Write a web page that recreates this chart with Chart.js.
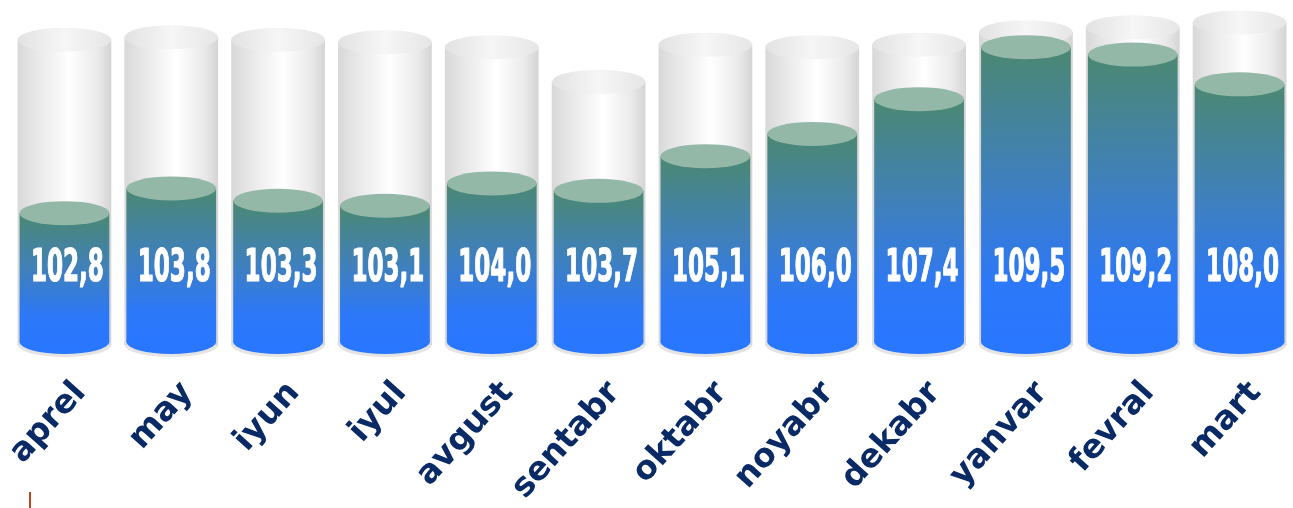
<!DOCTYPE html>
<html>
<head>
<meta charset="utf-8">
<script src="https://cdn.jsdelivr.net/npm/chart.js@4.4.1/dist/chart.umd.min.js"></script>
<style>
  html, body { margin: 0; padding: 0; background: #fff; overflow: hidden; }
</style>
</head>
<body>
<canvas id="grafico" width="1293" height="508"></canvas>
<script>
const meses = ['aprel', 'may', 'iyun', 'iyul', 'avgust', 'sentabr', 'oktabr', 'noyabr', 'dekabr', 'yanvar', 'fevral', 'mart'];
const valores = [102.8, 103.8, 103.3, 103.1, 104.0, 103.7, 105.1, 106.0, 107.4, 109.5, 109.2, 108.0];
// height of the empty glass cylinders
const nivelVidrio = [109.8, 109.9, 109.8, 109.7, 109.5, 108.1, 109.6, 109.5, 109.6, 110.1, 110.3, 110.5];
const ejeMin = 97.6;
const ejeMax = 111;

const formato = v => v.toFixed(1).replace('.', ',');

const cilindros = {
  id: 'cilindros',
  beforeDatasetsDraw(chart) {
    const ctx = chart.ctx;
    const vidrio = chart.getDatasetMeta(0).data;
    const relleno = chart.getDatasetMeta(1).data;
    const ry = 12;

    relleno.forEach((bar, i) => {
      const g = vidrio[i];
      const gw = g.width + 4;
      const gl = g.x - gw / 2;
      const grx = gw / 2;
      const base = bar.base;

      // vidrio: cuerpo
      const gradV = ctx.createLinearGradient(gl, 0, gl + gw, 0);
      gradV.addColorStop(0, '#d8d8d8');
      gradV.addColorStop(0.15, '#e4e4e4');
      gradV.addColorStop(0.55, '#ffffff');
      gradV.addColorStop(0.85, '#eaeaea');
      gradV.addColorStop(1, '#d4d4d4');

      ctx.save();
      ctx.fillStyle = '#e4e4e4';
      ctx.beginPath();
      ctx.ellipse(g.x, base + 3, grx, ry, 0, 0, Math.PI * 2);
      ctx.fill();
      ctx.fillStyle = gradV;
      ctx.fillRect(gl, g.y, gw, base + 3 - g.y);

      // vidrio: tapa
      const gradT = ctx.createLinearGradient(gl, 0, gl + gw, 0);
      gradT.addColorStop(0, '#e2e2e2');
      gradT.addColorStop(0.5, '#f6f6f6');
      gradT.addColorStop(1, '#e6e6e6');
      ctx.fillStyle = gradT;
      ctx.beginPath();
      ctx.ellipse(g.x, g.y, grx, ry, 0, 0, Math.PI * 2);
      ctx.fill();

      // relleno
      const w = bar.width;
      const l = bar.x - w / 2;
      ctx.fillStyle = '#2a77ff';
      ctx.beginPath();
      ctx.ellipse(bar.x, base, w / 2, ry, 0, 0, Math.PI * 2);
      ctx.fill();

      const gradR = ctx.createLinearGradient(0, bar.y, 0, base);
      gradR.addColorStop(0, '#4b8872');
      gradR.addColorStop(0.45, '#3f80bd');
      gradR.addColorStop(0.8, '#2c78f8');
      gradR.addColorStop(1, '#2a77ff');
      ctx.fillStyle = gradR;
      ctx.fillRect(l, bar.y, w, base - bar.y);

      ctx.fillStyle = '#93b8a8';
      ctx.beginPath();
      ctx.ellipse(bar.x, bar.y, w / 2, ry, 0, 0, Math.PI * 2);
      ctx.fill();
      ctx.restore();
    });

    // trazo suelto abajo a la izquierda
    ctx.save();
    ctx.strokeStyle = '#c2431c';
    ctx.lineWidth = 2;
    ctx.beginPath();
    ctx.moveTo(30, 492);
    ctx.lineTo(30, 508);
    ctx.stroke();
    ctx.restore();
  },
  afterDatasetsDraw(chart) {
    const ctx = chart.ctx;
    const relleno = chart.getDatasetMeta(1).data;
    ctx.save();
    ctx.fillStyle = '#ffffff';
    ctx.strokeStyle = '#ffffff';
    ctx.lineWidth = 1.2;
    ctx.lineJoin = 'round';
    ctx.textAlign = 'center';
    ctx.textBaseline = 'middle';
    ctx.font = "bold 44px 'Liberation Sans Narrow', 'DejaVu Sans Condensed', 'Liberation Sans', sans-serif";
    relleno.forEach((bar, i) => {
      const txt = formato(valores[i]);
      const ancho = ctx.measureText(txt).width;
      const sx = Math.min(1, 73 / ancho);
      ctx.save();
      ctx.translate(bar.x + 3, bar.base - 72);
      ctx.scale(sx, 1);
      ctx.fillText(txt, 0, 0);
      ctx.strokeText(txt, 0, 0);
      ctx.restore();
    });
    ctx.restore();
  }
};

new Chart(document.getElementById('grafico').getContext('2d'), {
  type: 'bar',
  data: {
    labels: meses,
    datasets: [
      {
        label: 'vidrio',
        data: nivelVidrio,
        backgroundColor: 'rgba(0,0,0,0)',
        borderWidth: 0,
        grouped: false,
        base: ejeMin,
        order: 2
      },
      {
        label: 'valor',
        data: valores,
        backgroundColor: 'rgba(0,0,0,0)',
        borderWidth: 0,
        grouped: false,
        base: ejeMin,
        order: 1
      }
    ]
  },
  options: {
    responsive: false,
    animation: false,
    datasets: {
      bar: { barPercentage: 0.84, categoryPercentage: 1 }
    },
    layout: { padding: { left: 11, right: 0, top: 10, bottom: 0 } },
    plugins: {
      legend: { display: false },
      tooltip: { enabled: false }
    },
    scales: {
      x: {
        grid: { display: false },
        border: { display: false },
        ticks: {
          color: '#0a2a66',
          font: { family: "'DejaVu Sans', sans-serif", size: 33, weight: 'bold' },
          minRotation: 48,
          maxRotation: 48,
          autoSkip: false,
          labelOffset: 16,
          padding: 24
        },
        afterFit(scale) {
          scale.height = 166;
          scale.paddingLeft = 0;
          scale.paddingRight = 0;
        }
      },
      y: {
        display: false,
        min: ejeMin,
        max: ejeMax
      }
    }
  },
  plugins: [cilindros]
});
</script>
</body>
</html>
